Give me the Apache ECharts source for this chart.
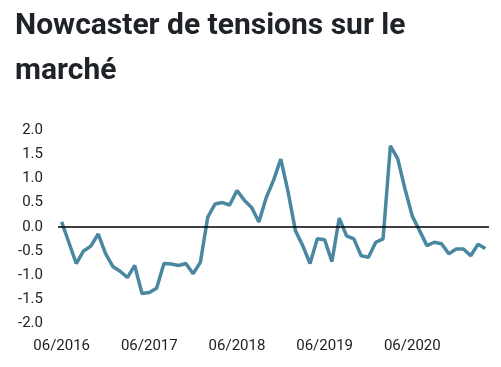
<!DOCTYPE html>
<html>
<head>
<meta charset="utf-8">
<script src="https://cdn.jsdelivr.net/npm/echarts@6/dist/echarts.min.js"></script>
<style>
html,body{margin:0;padding:0;background:#fff;}
#c{width:501px;height:367px;}
</style>
</head>
<body>
<div id="c"></div>
<script>
const titleText = "Nowcaster de tensions sur le\nmarché";
const startYear = 2016, startMonth = 6, nMonths = 59;
const categories = [];
for (let i = 0; i < nMonths; i++) {
  const m = (startMonth - 1 + i) % 12 + 1;
  const y = startYear + Math.floor((startMonth - 1 + i) / 12);
  categories.push((m < 10 ? "0" + m : "" + m) + "/" + y);
}
const values = [
  0.1, -0.33, -0.76, -0.5, -0.4, -0.15, -0.55, -0.82, -0.92, -1.05,
  -0.8, -1.38, -1.36, -1.27, -0.76, -0.77, -0.8, -0.76, -0.97, -0.73,
  0.2, 0.47, 0.5, 0.45, 0.75, 0.55, 0.4, 0.1, 0.6, 0.96,
  1.4, 0.72, -0.08, -0.39, -0.76, -0.25, -0.27, -0.72, 0.18, -0.19,
  -0.25, -0.6, -0.63, -0.32, -0.25, 1.67, 1.41, 0.78, 0.22, -0.08,
  -0.39, -0.32, -0.35, -0.56, -0.46, -0.46, -0.6, -0.36, -0.45
];
const yTicks = [-2.0, -1.5, -1.0, -0.5, 0.0, 0.5, 1.0, 1.5, 2.0];

const chart = echarts.init(document.getElementById('c'), null, {renderer: 'canvas'});
chart.setOption({
  animation: false,
  backgroundColor: '#ffffff',
  title: {
    text: titleText,
    left: 15,
    top: 4,
    padding: 0,
    textStyle: {
      fontFamily: 'Roboto',
      fontWeight: 'bold',
      fontSize: 30,
      lineHeight: 45,
      color: '#1f2328'
    }
  },
  grid: {left: 58, right: 12, top: 130, bottom: 43.5, containLabel: false},
  xAxis: {
    type: 'category',
    data: categories,
    boundaryGap: true,
    axisLine: {show: false, onZero: false},
    axisTick: {show: false},
    axisLabel: {
      interval: 11,
      margin: 15,
      fontFamily: 'Roboto',
      fontSize: 15,
      color: '#222'
    },
    splitLine: {show: false}
  },
  yAxis: {
    type: 'value',
    min: yTicks[0],
    max: yTicks[yTicks.length - 1],
    interval: 0.5,
    axisLine: {show: false},
    axisTick: {show: false},
    splitLine: {show: false},
    axisLabel: {
      margin: 15,
      fontFamily: 'Roboto',
      fontSize: 15,
      color: '#222',
      formatter: v => v.toFixed(1)
    }
  },
  series: [{
    type: 'line',
    data: values,
    symbol: 'none',
    lineStyle: {color: '#4a87a0', width: 3.5},
    itemStyle: {color: '#4a87a0'},
    markLine: {
      silent: true,
      symbol: 'none',
      label: {show: false},
      lineStyle: {color: '#000', width: 1.5, type: 'solid'},
      data: [{yAxis: 0}]
    },
    z: 3
  }]
});
</script>
</body>
</html>
